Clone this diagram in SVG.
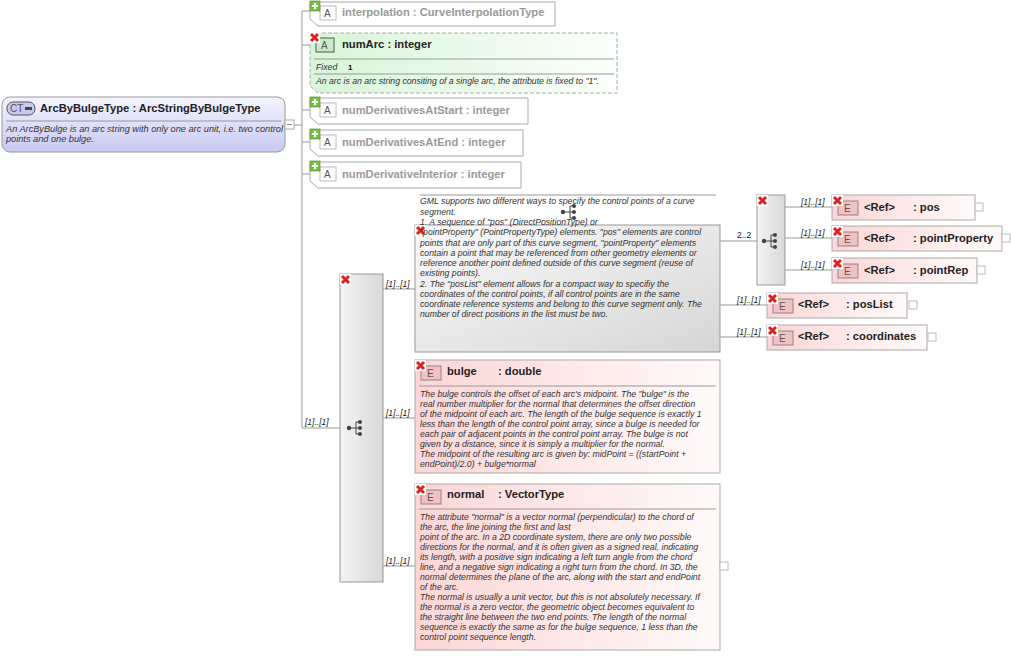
<svg xmlns="http://www.w3.org/2000/svg" width="1011" height="656" viewBox="0 0 1011 656">
<defs>
<linearGradient id="ct" x1="0" y1="0" x2="0" y2="1"><stop offset="0" stop-color="#f4f4ff"/><stop offset="1" stop-color="#c9c9f2"/></linearGradient>
<linearGradient id="el" x1="0" y1="0" x2="1" y2="0"><stop offset="0" stop-color="#fcd6d6"/><stop offset="1" stop-color="#fffafa"/></linearGradient>
<linearGradient id="gr" x1="0" y1="0" x2="1" y2="1"><stop offset="0" stop-color="#fafafa"/><stop offset="1" stop-color="#d6d6d6"/></linearGradient>
<linearGradient id="grv" x1="0" y1="0" x2="1" y2="0"><stop offset="0" stop-color="#f4f4f4"/><stop offset="1" stop-color="#d8d8d8"/></linearGradient>
<linearGradient id="at" x1="0" y1="0" x2="1" y2="0"><stop offset="0" stop-color="#d8f5d8"/><stop offset="1" stop-color="#fbfffb"/></linearGradient>
<g id="plus"><rect x="0" y="0" width="10" height="10" fill="#7cc242" stroke="#4a8a20" stroke-width="0.6"/><path d="M5 2V8M2 5H8" stroke="#fff" stroke-width="2"/></g>
<g id="x"><rect x="0" y="0" width="11" height="11" fill="#fff"/><path d="M2 2L9 9M9 2L2 9" stroke="#d22" stroke-width="3"/></g>
<g id="seq"><circle cx="0" cy="0" r="2.2" fill="#444"/><path d="M0 0H7M7 -6V6M7 -6H11M7 0H11M7 6H11" stroke="#444" fill="none"/><circle cx="11" cy="-6" r="2" fill="#444"/><circle cx="11" cy="0" r="2" fill="#444"/><circle cx="11" cy="6" r="2" fill="#444"/></g>
</defs>
<style>
text{font-family:"Liberation Sans",Arial,sans-serif}
.t{font-size:11.2px;font-weight:bold;fill:#222}
.tg{font-size:11.2px;font-weight:bold;fill:#999}
.d{font-size:8.7px;font-style:italic;fill:#333}
.m{font-size:8.5px;font-style:italic;fill:#222}
.c{stroke:#999;fill:none;stroke-width:1}
.ab{fill:#fff;stroke:#aaa}
.eb{fill:url(#el);stroke:#aaa}
.ic{font-size:10px;fill:#555}
</style>
<g id="connectors">
<path class="c" d="M285 125H302M302 11V428M302 11H310M302 45H310M302 110H310M302 142H310M302 174H310M302 428H340"/>
<path class="c" d="M383 289H415M383 418H415M383 566H415M720 241H757M785 207H832M785 238H832M785 270H832M720 305H767M720 337H767"/>
<path class="c" d="M420 195H716"/>
<text class="m" x="305" y="425">[1]..[1]</text>
<text class="m" x="386" y="287">[1]..[1]</text>
<text class="m" x="386" y="416">[1]..[1]</text>
<text class="m" x="386" y="564">[1]..[1]</text>
<text class="m" x="737" y="238" style="font-style:normal">2..2</text>
<text class="m" x="801" y="205">[1]..[1]</text>
<text class="m" x="801" y="236">[1]..[1]</text>
<text class="m" x="801" y="268">[1]..[1]</text>
<text class="m" x="737" y="303">[1]..[1]</text>
<text class="m" x="737" y="335">[1]..[1]</text>
</g>
<g id="ct-node">
<rect x="2" y="97" width="283" height="55" rx="8" fill="url(#ct)" stroke="#999"/>
<rect x="7" y="102" width="28" height="13" rx="6" fill="#c8c8f0" stroke="#555"/>
<text x="10" y="112" class="ic" fill="#333">CT</text><rect x="25" y="107" width="7" height="3" fill="#444"/>
<text class="t" x="40" y="112">ArcByBulgeType : ArcStringByBulgeType</text>
<line x1="6" y1="121" x2="281" y2="121" stroke="#999"/>
<text class="d" x="6" y="132" style="font-size:9.2px">An ArcByBulge is an arc string with only one arc unit, i.e. two control</text>
<text class="d" x="6" y="142" style="font-size:9.2px">points and one bulge.</text>
<rect x="285" y="120" width="9" height="9" fill="#fff" stroke="#aaa"/><path d="M287 124.5H292" stroke="#888"/>
</g>
<g id="interpolation"><path class="ab" d="M310 2H555V26H318L310 19Z"/><rect x="320" y="6" width="16" height="14" fill="#fff" stroke="#bbb"/><text x="324" y="17" class="ic">A</text><use href="#plus" x="310" y="1"/><text class="tg" x="342" y="16">interpolation : CurveInterpolationType</text></g>
<g id="numArc"><path d="M310 33H617V93H318L310 86Z" fill="url(#at)" stroke="#aaa" stroke-dasharray="4,2"/><rect x="316" y="38" width="18" height="14" fill="#c8ecc8" stroke="#555"/><text x="321" y="49" class="ic" fill="#222">A</text><use href="#x" x="309" y="32"/><text class="t" x="342" y="48">numArc  : integer</text><line x1="314" y1="59" x2="614" y2="59" stroke="#999"/><text class="d" x="316" y="70">Fixed</text><text x="348" y="70" style="font-size:8px;font-weight:bold">1</text><line x1="314" y1="74" x2="614" y2="74" stroke="#999"/><text class="d" x="316" y="84">An arc is an arc string consiting of a single arc, the attribute is fixed to "1".</text></g>
<g id="numDerivativesAtStart"><path class="ab" d="M310 98H528V124H318L310 117Z"/><rect x="320" y="103" width="16" height="14" fill="#fff" stroke="#bbb"/><text x="324" y="114" class="ic">A</text><use href="#plus" x="310" y="97"/><text class="tg" x="342" y="114">numDerivativesAtStart : integer</text></g>
<g id="numDerivativesAtEnd"><path class="ab" d="M310 130H523V156H318L310 149Z"/><rect x="320" y="135" width="16" height="14" fill="#fff" stroke="#bbb"/><text x="324" y="146" class="ic">A</text><use href="#plus" x="310" y="129"/><text class="tg" x="342" y="146">numDerivativesAtEnd : integer</text></g>
<g id="numDerivativeInterior"><path class="ab" d="M310 162H521V188H318L310 181Z"/><rect x="320" y="167" width="16" height="14" fill="#fff" stroke="#bbb"/><text x="324" y="178" class="ic">A</text><use href="#plus" x="310" y="161"/><text class="tg" x="342" y="178">numDerivativeInterior : integer</text></g>
<g id="sequence"><rect x="340" y="274" width="43" height="308" fill="url(#grv)" stroke="#999"/><use href="#x" x="340" y="274"/><use href="#seq" x="349" y="428"/></g>
<g id="choice"><rect x="415" y="225" width="305" height="127" fill="url(#gr)" stroke="#999"/><use href="#x" x="415" y="225"/><use href="#seq" x="563" y="212"/>
<text class="d"><tspan x="420" y="204">GML supports two different ways to specify the control points of a curve</tspan><tspan x="420" y="215">segment.</tspan><tspan x="420" y="225">1. A sequence of "pos" (DirectPositionType) or</tspan><tspan x="420" y="235">"pointProperty" (PointPropertyType) elements. "pos" elements are control</tspan><tspan x="420" y="246">points that are only part of this curve segment, "pointProperty" elements</tspan><tspan x="420" y="256">contain a point that may be referenced from other geometry elements or</tspan><tspan x="420" y="266">reference another point defined outside of this curve segment (reuse of</tspan><tspan x="420" y="276">existing points).</tspan><tspan x="420" y="287">2. The "posList" element allows for a compact way to specifiy the</tspan><tspan x="420" y="297">coordinates of the control points, if all control points are in the same</tspan><tspan x="420" y="307">coordinate reference systems and belong to this curve segment only. The</tspan><tspan x="420" y="317">number of direct positions in the list must be two.</tspan></text></g>
<g id="seq2"><rect x="757" y="195" width="28" height="90" fill="url(#grv)" stroke="#999"/><use href="#x" x="757" y="195"/><use href="#seq" x="764" y="241"/></g>
<g id="pos"><rect class="eb" x="832" y="195" width="143" height="25"/><rect x="838" y="201" width="20" height="14" fill="#f5c0c0" stroke="#888"/><text x="844" y="212" class="ic">E</text><use href="#x" x="832" y="195"/><text class="t" x="864" y="211">&lt;Ref&gt;</text><text class="t" x="913" y="211">: pos</text><rect x="975" y="203" width="8" height="8" fill="#fff" stroke="#bbb"/></g>
<g id="pointProperty"><rect class="eb" x="832" y="226" width="170" height="25"/><rect x="838" y="232" width="20" height="14" fill="#f5c0c0" stroke="#888"/><text x="844" y="243" class="ic">E</text><use href="#x" x="832" y="226"/><text class="t" x="864" y="242">&lt;Ref&gt;</text><text class="t" x="913" y="242">: pointProperty</text><rect x="1002" y="234" width="8" height="8" fill="#fff" stroke="#bbb"/></g>
<g id="pointRep"><rect class="eb" x="832" y="258" width="145" height="25"/><rect x="838" y="264" width="20" height="14" fill="#f5c0c0" stroke="#888"/><text x="844" y="275" class="ic">E</text><use href="#x" x="832" y="258"/><text class="t" x="864" y="274">&lt;Ref&gt;</text><text class="t" x="913" y="274">: pointRep</text><rect x="977" y="266" width="8" height="8" fill="#fff" stroke="#bbb"/></g>
<g id="posList"><rect class="eb" x="767" y="293" width="140" height="25"/><rect x="773" y="299" width="20" height="14" fill="#f5c0c0" stroke="#888"/><text x="779" y="310" class="ic">E</text><use href="#x" x="767" y="293"/><text class="t" x="798" y="308">&lt;Ref&gt;</text><text class="t" x="846" y="308">: posList</text><rect x="909" y="301" width="8" height="8" fill="#fff" stroke="#bbb"/></g>
<g id="coordinates"><rect class="eb" x="767" y="325" width="160" height="25"/><rect x="773" y="331" width="20" height="14" fill="#f5c0c0" stroke="#888"/><text x="779" y="342" class="ic">E</text><use href="#x" x="767" y="325"/><text class="t" x="798" y="340">&lt;Ref&gt;</text><text class="t" x="846" y="340">: coordinates</text><rect x="928" y="333" width="8" height="8" fill="#fff" stroke="#bbb"/></g>
<g id="bulge"><rect class="eb" x="415" y="360" width="305" height="113"/><rect x="421" y="366" width="20" height="14" fill="#f5c0c0" stroke="#888"/><text x="427" y="377" class="ic">E</text><use href="#x" x="415" y="360"/><text class="t" x="447" y="375">bulge</text><text class="t" x="498" y="375">: double</text><line x1="419" y1="386" x2="716" y2="386" stroke="#999"/>
<text class="d"><tspan x="420" y="397">The bulge controls the offset of each arc's midpoint. The "bulge" is the</tspan><tspan x="420" y="407">real number multiplier for the normal that determines the offset direction</tspan><tspan x="420" y="417">of the midpoint of each arc. The length of the bulge sequence is exactly 1</tspan><tspan x="420" y="427">less than the length of the control point array, since a bulge is needed for</tspan><tspan x="420" y="437">each pair of adjacent points in the control point array. The bulge is not</tspan><tspan x="420" y="447">given by a distance, since it is simply a multiplier for the normal.</tspan><tspan x="420" y="457">The midpoint of the resulting arc is given by: midPoint = ((startPoint +</tspan><tspan x="420" y="467">endPoint)/2.0) + bulge*normal</tspan></text></g>
<g id="normal"><rect class="eb" x="415" y="484" width="305" height="166"/><rect x="421" y="490" width="20" height="14" fill="#f5c0c0" stroke="#888"/><text x="427" y="501" class="ic">E</text><use href="#x" x="415" y="484"/><text class="t" x="447" y="498">normal</text><text class="t" x="498" y="498">: VectorType</text><line x1="419" y1="509" x2="716" y2="509" stroke="#999"/>
<text class="d"><tspan x="420" y="520">The attribute "normal" is a vector normal (perpendicular) to the chord of</tspan><tspan x="420" y="530">the arc, the line joining the first and last</tspan><tspan x="420" y="540">point of the arc. In a 2D coordinate system, there are only two possible</tspan><tspan x="420" y="550">directions for the normal, and it is often given as a signed real, indicating</tspan><tspan x="420" y="560">its length, with a positive sign indicating a left turn angle from the chord</tspan><tspan x="420" y="570">line, and a negative sign indicating a right turn from the chord. In 3D, the</tspan><tspan x="420" y="580">normal determines the plane of the arc, along with the start and endPoint</tspan><tspan x="420" y="590">of the arc.</tspan><tspan x="420" y="600">The normal is usually a unit vector, but this is not absolutely necessary. If</tspan><tspan x="420" y="610">the normal is a zero vector, the geometric object becomes equivalent to</tspan><tspan x="420" y="620">the straight line between the two end points. The length of the normal</tspan><tspan x="420" y="630">sequence is exactly the same as for the bulge sequence, 1 less than the</tspan><tspan x="420" y="640">control point sequence length.</tspan></text><rect x="720" y="562" width="8" height="8" fill="#fff" stroke="#bbb"/></g>
</svg>
